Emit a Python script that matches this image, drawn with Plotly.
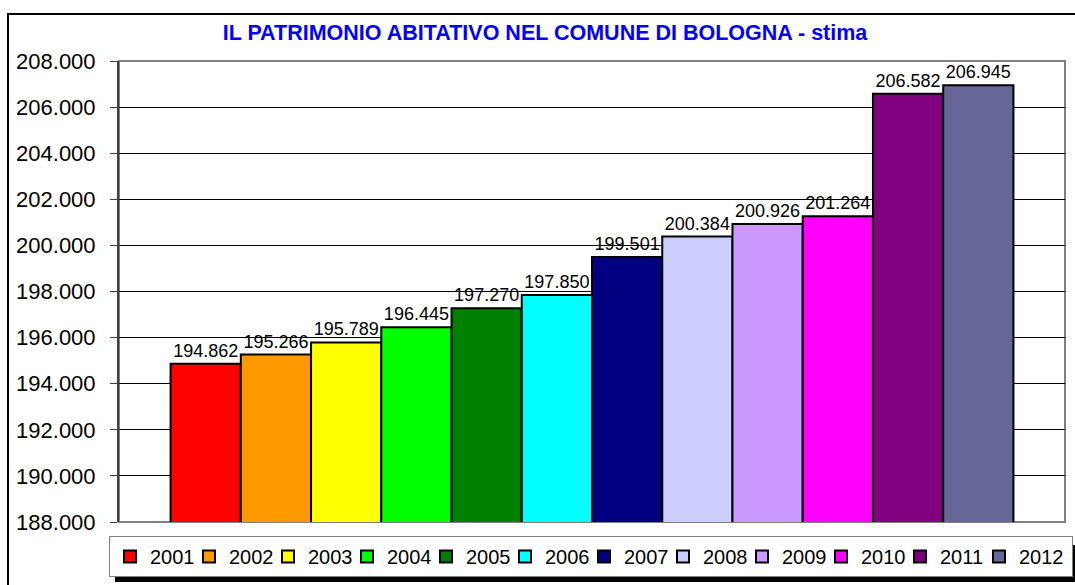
import plotly.graph_objects as go

years = ["2001", "2002", "2003", "2004", "2005", "2006",
         "2007", "2008", "2009", "2010", "2011", "2012"]
values = [194862, 195266, 195789, 196445, 197270, 197850,
          199501, 200384, 200926, 201264, 206582, 206945]
colors = ["#FF0000", "#FF9900", "#FFFF00", "#00FF00", "#008000", "#00FFFF",
          "#000080", "#CCCCFF", "#CC99FF", "#FF00FF", "#800080", "#666699"]
y_ticks = list(range(188000, 208001, 2000))

W, H = 1075, 585
L, R, T, B = 119, 10, 61, 63
pw, ph = W - L - R, H - T - B

def px(x):
    return (x - L) / pw

def py(y):
    return (H - B - y) / ph

fig = go.Figure()
for i, (yr, v, c) in enumerate(zip(years, values, colors)):
    fig.add_trace(go.Bar(
        x=[0], y=[v], name=yr,
        marker=dict(color=c, line=dict(color="#000000", width=2)),
        text=[v], texttemplate="%{y:,d}", textposition="outside",
        textfont=dict(family="Arial, Liberation Sans", size=18, color="#000000"),
        constraintext="none", cliponaxis=False,
        legendwidth=(48 if i == len(years) - 1 else None),
    ))

fig.update_layout(
    width=W, height=H,
    margin=dict(l=L, r=R, t=T, b=B, autoexpand=False),
    paper_bgcolor="white", plot_bgcolor="white",
    separators=",.",
    barmode="group", bargap=0.109, bargroupgap=0,
    font=dict(family="Arial, Liberation Sans", color="#000000"),
    title=dict(text="<b>IL PATRIMONIO ABITATIVO NEL COMUNE DI BOLOGNA - stima</b>",
               x=545 / W, xanchor="center", y=1 - 32 / H, yanchor="middle",
               font=dict(size=21.5, color="#0000FF", family="Arial, Liberation Sans")),
    xaxis=dict(range=[-0.5, 0.5], showticklabels=False, showgrid=False,
               zeroline=False, showline=False, ticks=""),
    yaxis=dict(range=[188000, 208000], tickvals=y_ticks, tickformat=",d",
               showgrid=True, gridcolor="#000000", gridwidth=1,
               showline=True, linecolor="#404040", linewidth=2,
               ticks="outside", ticklen=7, tickcolor="#404040",
               ticklabelstandoff=10,
               tickfont=dict(size=22, color="#000000"), zeroline=False),
    legend=dict(orientation="h", x=px(109), xanchor="left", y=py(536), yanchor="top",
                bgcolor="white", bordercolor="#808080", borderwidth=1,
                font=dict(size=20, color="#000000"), entrywidth=34,
                itemwidth=30, traceorder="normal"),
    showlegend=True,
    shapes=[
        # plot area border
        dict(type="rect", xref="paper", yref="paper", x0=0, x1=1, y0=0, y1=1,
             line=dict(color="#808080", width=2), layer="below"),
        # legend shadow
        dict(type="rect", xref="paper", yref="paper", x0=px(115), x1=px(1080),
             y0=py(582), y1=py(545), fillcolor="#000000",
             line=dict(width=0), layer="above"),
        # outer border
        dict(type="rect", xref="paper", yref="paper", x0=px(8), x1=px(1090),
             y0=py(600), y1=py(14), line=dict(color="#000000", width=2),
             layer="above"),
    ],
)

fig.write_html("out.html", config={"displayModeBar": False},
               post_script="document.body.style.margin='0';document.body.style.padding='0';")
